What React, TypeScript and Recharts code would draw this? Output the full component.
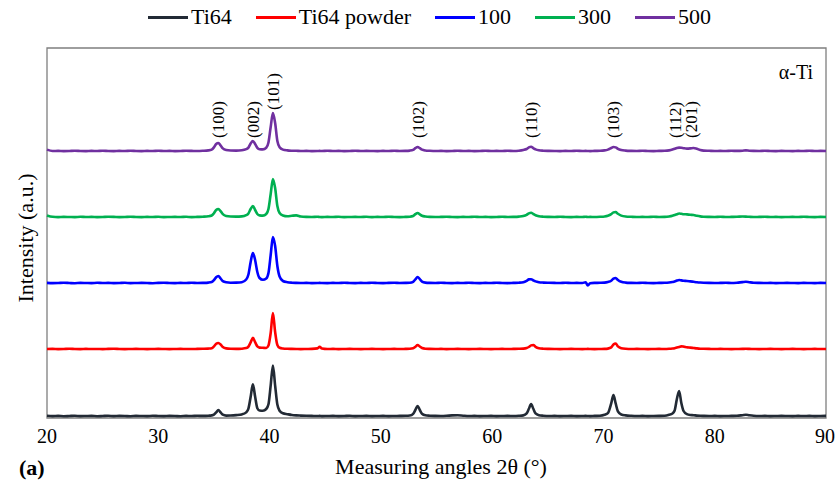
import React from 'react';
import { LineChart, Line, XAxis, YAxis, ReferenceArea, ReferenceDot } from 'recharts';

const W = 835;
const H = 490;
const FONT = '"Liberation Serif", "Times New Roman", Times, serif';

// Diffraction angle grid 2θ (°), denser around the reflections
const angles = [
  20, 20.5, 21, 21.5, 22, 22.5, 23, 23.5, 24, 24.5, 25, 25.5, 26, 26.5, 27,
  27.5, 28, 28.5, 29, 29.5, 30, 30.5, 31, 31.5, 32, 32.5, 33, 33.5, 34, 34.5,
  34.8, 35.0, 35.2, 35.4, 35.6, 35.8, 36.1, 36.5,
  37.0, 37.5, 37.9, 38.1, 38.3, 38.5, 38.7, 38.9, 39.1, 39.4, 39.7, 39.9, 40.1, 40.3, 40.5, 40.7, 40.9, 41.2, 41.6,
  42.0, 42.4, 42.8, 43.3, 43.8, 44.3, 44.5, 44.7, 45.2, 45.7, 46.2, 46.7, 47.2, 47.7, 48.2, 48.7, 49.2, 49.7, 50.2, 50.7, 51.2, 51.7, 52.2, 52.6,
  52.9, 53.1, 53.3, 53.5, 53.7, 54.0, 54.4,
  54.9, 55.4, 55.9, 56.4, 56.9, 57.4, 57.9, 58.4, 58.9, 59.4, 59.9, 60.4, 60.9, 61.4, 61.9, 62.4, 62.8,
  63.1, 63.3, 63.5, 63.7, 63.9, 64.2, 64.6,
  65.1, 65.6, 66.1, 66.6, 67.1, 67.6, 68.1, 68.4, 68.6, 68.8, 69.2, 69.7, 70.1, 70.4,
  70.7, 70.9, 71.1, 71.3, 71.6, 72.0,
  72.5, 73.0, 73.5, 74.0, 74.5, 75.0, 75.5, 75.9, 76.2,
  76.4, 76.6, 76.8, 77.0, 77.2, 77.5, 77.8, 78.1, 78.4, 78.7, 79.0,
  79.5, 80, 80.5, 81, 81.5, 82, 82.5, 82.8, 83.1, 83.5, 84, 84.5, 85, 85.5, 86, 86.5, 87, 87.5, 88, 88.5, 89, 89.5, 90,
];

// Intensities (a.u.) for each sample
const ti64 = [
  1.2, 0.9, 1.1, 0.8, 1.0, 1.2, 0.9, 1.0, 1.1, 0.8, 1.0, 1.2, 0.9, 1.1, 1.0, 0.8, 1.1, 1.0, 0.9, 1.2, 1.0, 0.9, 1.1, 1.0, 0.8, 1.1, 1.0, 1.2, 1.1, 1.3,
  1.6, 2.3, 4.6, 7.0, 4.6, 2.3, 1.4, 1.5,
  1.9, 2.6, 4.6, 8.3, 20.2, 32.7, 20.4, 8.8, 6.5, 6.3, 8.0, 12.7, 31.6, 51.5, 31.4, 12.4, 6.3, 3.7, 2.8,
  2.0, 1.6, 1.4, 1.2, 1.1, 1.0, 1.1, 0.9, 1.0, 1.1, 0.9, 1.0, 1.2, 0.9, 1.0, 1.1, 0.9, 1.0, 1.1, 0.9, 1.0, 1.1, 1.2, 1.5,
  3.2, 7.0, 11.0, 7.0, 3.2, 1.7, 1.3,
  1.1, 1.0, 1.2, 1.6, 1.7, 1.3, 1.0, 1.1, 0.9, 1.0, 1.1, 0.9, 1.0, 1.1, 1.0, 1.2, 1.6,
  3.6, 8.2, 13.0, 8.2, 3.6, 1.8, 1.3,
  1.0, 1.1, 0.9, 1.0, 1.1, 0.9, 1.0, 1.1, 1.0, 0.9, 1.1, 1.3, 2.3, 3.9,
  13.6, 22.0, 13.6, 5.6, 2.5, 1.6,
  1.2, 1.0, 1.1, 0.9, 1.0, 1.1, 1.3, 2.3, 3.5,
  6.5, 18.0, 26.0, 14.0, 6.0, 2.8, 2.0, 1.8, 1.4, 1.2, 1.1,
  1.0, 1.1, 0.9, 1.0, 1.1, 1.2, 1.8, 2.2, 1.7, 1.2, 1.0, 1.1, 0.9, 1.0, 1.1, 1.0, 0.9, 1.1, 1.0, 1.1, 0.9, 1.0, 1.1,
];

const ti64Powder = [
  1.0, 1.1, 0.9, 1.0, 1.2, 1.0, 0.9, 1.1, 1.0, 1.0, 0.9, 1.1, 1.2, 1.0, 0.9, 1.0, 1.1, 1.0, 0.9, 1.0, 1.1, 1.0, 0.9, 1.0, 1.1, 1.0, 1.0, 1.1, 1.2, 1.4,
  1.8, 3.6, 6.2, 7.0, 5.5, 3.0, 1.6, 1.2,
  1.1, 1.3, 1.9, 3.4, 7.6, 12.2, 7.8, 3.6, 2.4, 2.2, 2.0, 4.5, 17.0, 37.0, 18.0, 5.0, 2.2, 1.5, 1.2,
  1.1, 1.0, 0.9, 1.0, 1.1, 1.6, 3.3, 1.5, 1.0, 1.1, 0.9, 1.0, 1.1, 1.0, 0.9, 1.0, 1.1, 1.0, 0.9, 1.0, 1.1, 1.0, 1.1, 1.2,
  1.7, 3.2, 5.0, 3.5, 2.0, 1.3, 1.1,
  1.0, 1.1, 0.9, 1.0, 1.1, 1.0, 0.9, 1.0, 1.1, 1.0, 0.9, 1.0, 1.1, 1.0, 1.1, 1.2, 1.4,
  2.0, 3.0, 4.6, 5.0, 3.2, 1.8, 1.3,
  1.1, 1.0, 0.9, 1.0, 1.1, 1.0, 0.9, 1.0, 1.1, 1.0, 0.9, 1.0, 1.1, 1.4,
  2.6, 5.5, 6.5, 3.6, 1.8, 1.2,
  1.0, 1.1, 1.0, 0.9, 1.0, 1.1, 1.0, 1.2, 1.5,
  1.8, 2.4, 3.0, 3.6, 3.4, 2.8, 2.4, 2.0, 1.6, 1.3, 1.2,
  1.1, 1.0, 1.1, 1.0, 0.9, 1.0, 1.1, 1.2, 1.1, 1.0, 0.9, 1.0, 1.1, 1.0, 0.9, 1.0, 1.1, 1.0, 0.9, 1.0, 1.1, 1.0, 1.0,
];

const sample100 = [
  1.1, 0.9, 1.0, 1.2, 1.0, 0.8, 1.1, 1.0, 0.9, 1.2, 1.0, 1.1, 0.9, 1.0, 1.2, 0.9, 1.0, 1.1, 1.0, 0.8, 1.1, 1.2, 1.0, 0.9, 1.1, 1.0, 1.2, 1.0, 1.1, 1.4,
  2.0, 3.8, 6.8, 8.0, 5.5, 2.9, 1.7, 1.3,
  1.4, 1.8, 4.5, 9.5, 22.0, 31.0, 24.0, 12.0, 6.0, 4.2, 5.5, 11.0, 29.0, 47.0, 38.0, 18.0, 7.5, 3.0, 1.8,
  1.3, 1.1, 1.0, 1.1, 0.9, 1.0, 1.1, 1.0, 0.9, 1.1, 1.0, 1.2, 1.0, 0.9, 1.1, 1.0, 1.2, 1.0, 0.9, 1.1, 1.2, 1.0, 1.1, 1.3,
  2.2, 4.6, 7.0, 4.8, 2.4, 1.4, 1.1,
  1.0, 1.2, 1.0, 0.9, 1.1, 1.0, 1.2, 1.0, 0.9, 1.1, 1.0, 1.2, 1.0, 0.9, 1.1, 1.3, 1.8,
  3.2, 4.6, 4.8, 3.6, 2.6, 1.8, 1.4,
  1.2, 1.1, 1.0, 1.2, 1.0, 1.1, 1.0, 1.8, -1.5, 0.8, 1.1, 1.2, 1.4, 2.0,
  3.2, 5.4, 6.0, 4.0, 2.2, 1.4,
  1.1, 1.0, 1.2, 1.0, 0.9, 1.1, 1.2, 1.5, 2.0,
  2.5, 3.4, 4.0, 3.6, 3.3, 3.0, 2.6, 2.2, 1.8, 1.5, 1.3,
  1.1, 1.0, 1.1, 1.2, 1.0, 1.3, 1.9, 2.2, 1.8, 1.3, 1.1, 1.0, 1.1, 0.9, 1.0, 1.1, 1.0, 0.9, 1.1, 1.0, 0.9, 1.1, 1.0,
];

const sample300 = [
  2.6, 1.2, 0.9, 1.1, 1.0, 0.9, 1.2, 1.0, 1.1, 0.9, 1.0, 1.2, 1.1, 0.9, 1.0, 1.2, 1.0, 0.9, 1.1, 1.0, 1.2, 0.9, 1.0, 1.1, 1.0, 1.2, 0.9, 1.1, 1.3, 1.7,
  2.5, 4.8, 8.0, 9.0, 6.8, 3.8, 2.0, 1.5,
  1.4, 1.6, 2.8, 4.6, 9.0, 12.0, 8.0, 4.0, 2.6, 2.4, 4.0, 9.0, 24.0, 39.0, 30.0, 12.0, 5.0, 2.5, 1.7,
  2.2, 2.6, 1.5, 1.1, 1.0, 1.2, 1.0, 0.9, 1.1, 1.0, 1.2, 0.9, 1.0, 1.1, 1.0, 1.2, 0.9, 1.1, 1.0, 1.2, 1.0, 0.9, 1.1, 1.3,
  2.0, 3.8, 5.0, 3.6, 2.2, 1.5, 1.1,
  1.0, 1.1, 1.2, 1.0, 0.9, 1.1, 1.0, 1.2, 1.0, 1.1, 0.9, 1.0, 1.2, 1.0, 1.1, 1.4, 2.0,
  3.2, 4.6, 5.2, 4.0, 2.8, 1.8, 1.3,
  1.1, 1.0, 1.2, 1.0, 0.9, 1.1, 1.0, 1.2, 1.0, 1.1, 1.0, 1.2, 1.5, 2.2,
  3.8, 5.6, 6.0, 4.2, 2.4, 1.5,
  1.2, 1.0, 1.1, 1.0, 1.2, 1.0, 1.1, 1.5, 2.2,
  3.0, 3.8, 4.5, 4.2, 3.8, 3.6, 3.2, 3.0, 2.2, 1.6, 1.3,
  1.1, 1.0, 1.2, 1.0, 1.1, 1.2, 1.5, 1.4, 1.2, 1.0, 1.1, 1.2, 1.0, 1.1, 0.9, 1.0, 1.1, 1.0, 1.2, 1.0, 0.9, 1.1, 1.0,
];

const sample500 = [
  2.4, 1.0, 1.1, 0.9, 1.0, 1.2, 1.0, 0.9, 1.1, 1.0, 1.2, 1.0, 0.9, 1.1, 1.0, 1.2, 1.0, 0.9, 1.1, 1.0, 1.2, 1.0, 1.1, 0.9, 1.0, 1.2, 1.1, 1.0, 1.2, 1.6,
  2.4, 4.6, 8.0, 9.0, 6.5, 3.6, 2.0, 1.5,
  1.4, 1.7, 2.8, 4.4, 8.5, 11.0, 8.0, 4.2, 2.8, 2.6, 4.2, 9.5, 25.0, 39.0, 29.0, 11.0, 4.8, 2.4, 1.6,
  1.3, 1.2, 1.0, 1.1, 0.9, 1.0, 1.1, 1.0, 1.2, 1.0, 1.1, 0.9, 1.0, 1.2, 1.0, 1.1, 1.0, 0.9, 1.1, 1.0, 1.2, 1.0, 1.1, 1.4,
  2.2, 3.8, 5.0, 3.8, 2.3, 1.5, 1.2,
  1.0, 1.1, 0.9, 1.0, 1.2, 1.0, 1.1, 0.9, 1.0, 1.2, 1.0, 1.1, 1.0, 1.2, 1.0, 1.3, 2.0,
  3.0, 4.6, 5.2, 3.8, 2.6, 1.7, 1.3,
  1.1, 1.0, 0.9, 1.1, 1.0, 1.2, 1.0, 1.1, 1.0, 0.9, 1.1, 1.2, 1.6, 2.4,
  4.0, 5.0, 4.6, 3.2, 2.0, 1.4,
  1.1, 1.0, 1.2, 1.0, 0.9, 1.1, 1.2, 1.6, 2.4,
  3.2, 4.0, 4.4, 4.2, 3.8, 3.4, 3.6, 4.0, 3.2, 2.0, 1.4,
  1.2, 1.0, 1.1, 1.0, 1.2, 1.1, 1.3, 1.6, 1.3, 1.1, 1.0, 1.2, 1.0, 0.9, 1.1, 1.0, 0.9, 1.1, 1.0, 1.2, 1.0, 1.1, 1.0,
];

// Vertical shift applied to each pattern so they stack without overlap
const stackShift = [1, 68, 134, 200, 266];

const seriesNames = ['Ti64', 'Ti64 powder', '100', '300', '500'];
const seriesValues = [ti64, ti64Powder, sample100, sample300, sample500];
const seriesColors = ['#222a35', '#ff0000', '#0000ff', '#00b050', '#7030a0'];

// α-Ti reflections marked above the top pattern
const hklLabels = ['(100)', '(002)', '(101)', '(102)', '(110)', '(103)', '(112)', '(201)'];
const hklAngles = [35.4, 38.5, 40.3, 53.3, 63.5, 70.9, 76.4, 77.9];

const xTicks = [20, 30, 40, 50, 60, 70, 80, 90];
const yMax = 370;

const rows = angles.map((angle, i) => {
  const row: Record<string, number> = { angle };
  seriesValues.forEach((vals, s) => {
    row[`s${s}`] = vals[i] + stackShift[s];
  });
  return row;
});

// Height of the top pattern nearest to a given angle
const topPatternAt = (a: number) => {
  let best = 0;
  let bestD = Infinity;
  angles.forEach((x, i) => {
    const d = Math.abs(x - a);
    if (d < bestD) {
      bestD = d;
      best = sample500[i] + stackShift[4];
    }
  });
  return best;
};

const hklLabel = (text: string) => (props: any) => {
  const vb = props.viewBox || {};
  const x = (vb.x ?? 0) + (vb.width ?? 0) / 2;
  const y = (vb.y ?? 0) + (vb.height ?? 0) / 2;
  return (
    <text
      x={x}
      y={y}
      dy="0.35em"
      transform={`rotate(-90 ${x} ${y})`}
      textAnchor="start"
      fontSize={17}
      fontFamily={FONT}
      fill="#000"
    >
      {text}
    </text>
  );
};

export default function App() {
  return (
    <div
      style={{
        position: 'absolute',
        left: 0,
        top: 0,
        width: W,
        height: H,
        background: '#fff',
        fontFamily: FONT,
      }}
    >
      <LineChart width={W} height={H} data={rows} margin={{ top: 48, right: 9, bottom: 42, left: 47 }}>
        <XAxis
          dataKey="angle"
          type="number"
          domain={[20, 90]}
          ticks={xTicks}
          tickLine={false}
          axisLine={false}
          height={30}
          tick={{ fontSize: 20, fill: '#000', fontFamily: FONT, dy: 3 }}
        />
        <YAxis hide type="number" domain={[0, yMax]} />
        {seriesNames.map((name, s) => (
          <Line
            key={name}
            name={name}
            dataKey={`s${s}`}
            type="monotone"
            stroke={seriesColors[s]}
            strokeWidth={2.6}
            dot={false}
            isAnimationActive={false}
          />
        ))}
        <ReferenceArea
          x1={20}
          x2={90}
          y1={0}
          y2={yMax}
          fill="none"
          stroke="#7f7f7f"
          strokeWidth={1.3}
          ifOverflow="visible"
        />
        {hklLabels.map((lab, i) => (
          <ReferenceDot
            key={lab}
            x={hklAngles[i]}
            y={Math.max(280, topPatternAt(hklAngles[i]) + 3)}
            r={0}
            fill="none"
            stroke="none"
            label={hklLabel(lab)}
            ifOverflow="visible"
          />
        ))}
      </LineChart>

      {/* legend */}
      <div
        style={{
          position: 'absolute',
          left: 148,
          top: 4,
          display: 'flex',
          alignItems: 'center',
          fontSize: 22,
          lineHeight: '26px',
          color: '#000',
          whiteSpace: 'nowrap',
        }}
      >
        {seriesNames.map((name, s) => (
          <div key={name} style={{ display: 'flex', alignItems: 'center', marginRight: 24 }}>
            <span style={{ display: 'inline-block', width: 40, height: 3, background: seriesColors[s] }} />
            <span style={{ marginLeft: 3 }}>{name}</span>
          </div>
        ))}
      </div>

      <svg
        width={W}
        height={H}
        style={{ position: 'absolute', left: 0, top: 0, pointerEvents: 'none' }}
      >
        <text x={813} y={79} textAnchor="end" fontSize={20} fontFamily={FONT} fill="#000">
          α-Ti
        </text>
        <text
          x={25}
          y={238}
          dy="0.35em"
          transform="rotate(-90 25 238)"
          textAnchor="middle"
          fontSize={22}
          fontFamily={FONT}
          fill="#000"
        >
          Intensity (a.u.)
        </text>
        <text x={441} y={474} textAnchor="middle" fontSize={22} fontFamily={FONT} fill="#000">
          Measuring angles 2θ (°)
        </text>
        <text x={19} y={475} fontSize={22} fontWeight="bold" fontFamily={FONT} fill="#000">
          (a)
        </text>
      </svg>
    </div>
  );
}
